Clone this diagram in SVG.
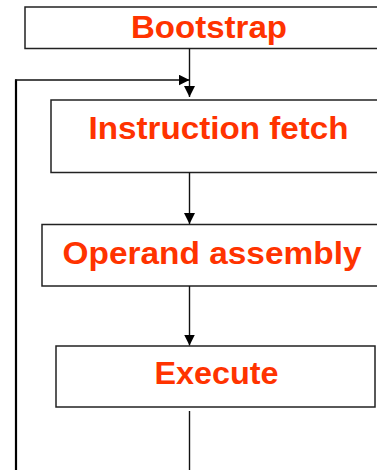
<svg xmlns="http://www.w3.org/2000/svg" width="377" height="470" viewBox="0 0 377 470">
  <style>
    .box { fill: #ffffff; stroke: #222222; stroke-width: 1.5; }
    .label { font-family: "Liberation Sans", Arial, Helvetica, sans-serif; font-weight: bold; font-size: 32px; fill: #ff3300; }
    .flow { fill: none; stroke: #111111; stroke-width: 1.4; }
    .loop { fill: none; stroke: #000000; stroke-width: 2.2; }
  </style>
  <defs>
    <marker id="arrow" markerUnits="userSpaceOnUse" markerWidth="11" markerHeight="11" viewBox="0 0 10 10" refX="10" refY="5" orient="auto">
      <path d="M0,0 L10,5 L0,10 Z" fill="#000000"/>
    </marker>
  </defs>

  <rect width="377" height="470" fill="#ffffff"/>

  <g id="bootstrap">
    <rect class="box" x="25" y="7" width="360" height="41.5"/>
    <text class="label" x="131" y="37.5" textLength="156" lengthAdjust="spacingAndGlyphs">Bootstrap</text>
  </g>

  <g id="instruction-fetch">
    <rect class="box" x="51" y="100" width="340" height="72.5"/>
    <text class="label" x="88.5" y="139" textLength="260" lengthAdjust="spacingAndGlyphs">Instruction fetch</text>
  </g>

  <g id="operand-assembly">
    <rect class="box" x="42" y="224.5" width="345" height="61.5"/>
    <text class="label" x="62.5" y="264" textLength="299" lengthAdjust="spacingAndGlyphs">Operand assembly</text>
  </g>

  <g id="execute">
    <rect class="box" x="56" y="346" width="319" height="61"/>
    <text class="label" x="154.5" y="383.5" textLength="124" lengthAdjust="spacingAndGlyphs">Execute</text>
  </g>

  <g id="connectors">
    <line class="flow" x1="189.5" y1="48.5" x2="189.5" y2="97" marker-end="url(#arrow)"/>
    <line class="flow" x1="189.5" y1="172.5" x2="189.5" y2="224" marker-end="url(#arrow)"/>
    <line class="flow" x1="189.5" y1="286" x2="189.5" y2="345.5" marker-end="url(#arrow)"/>
    <line class="flow" x1="189.5" y1="411" x2="189.5" y2="470"/>
    <line class="loop" x1="16" y1="470" x2="16" y2="79.5"/>
    <line class="flow" x1="15" y1="80" x2="189.5" y2="80" marker-end="url(#arrow)"/>
  </g>
</svg>
